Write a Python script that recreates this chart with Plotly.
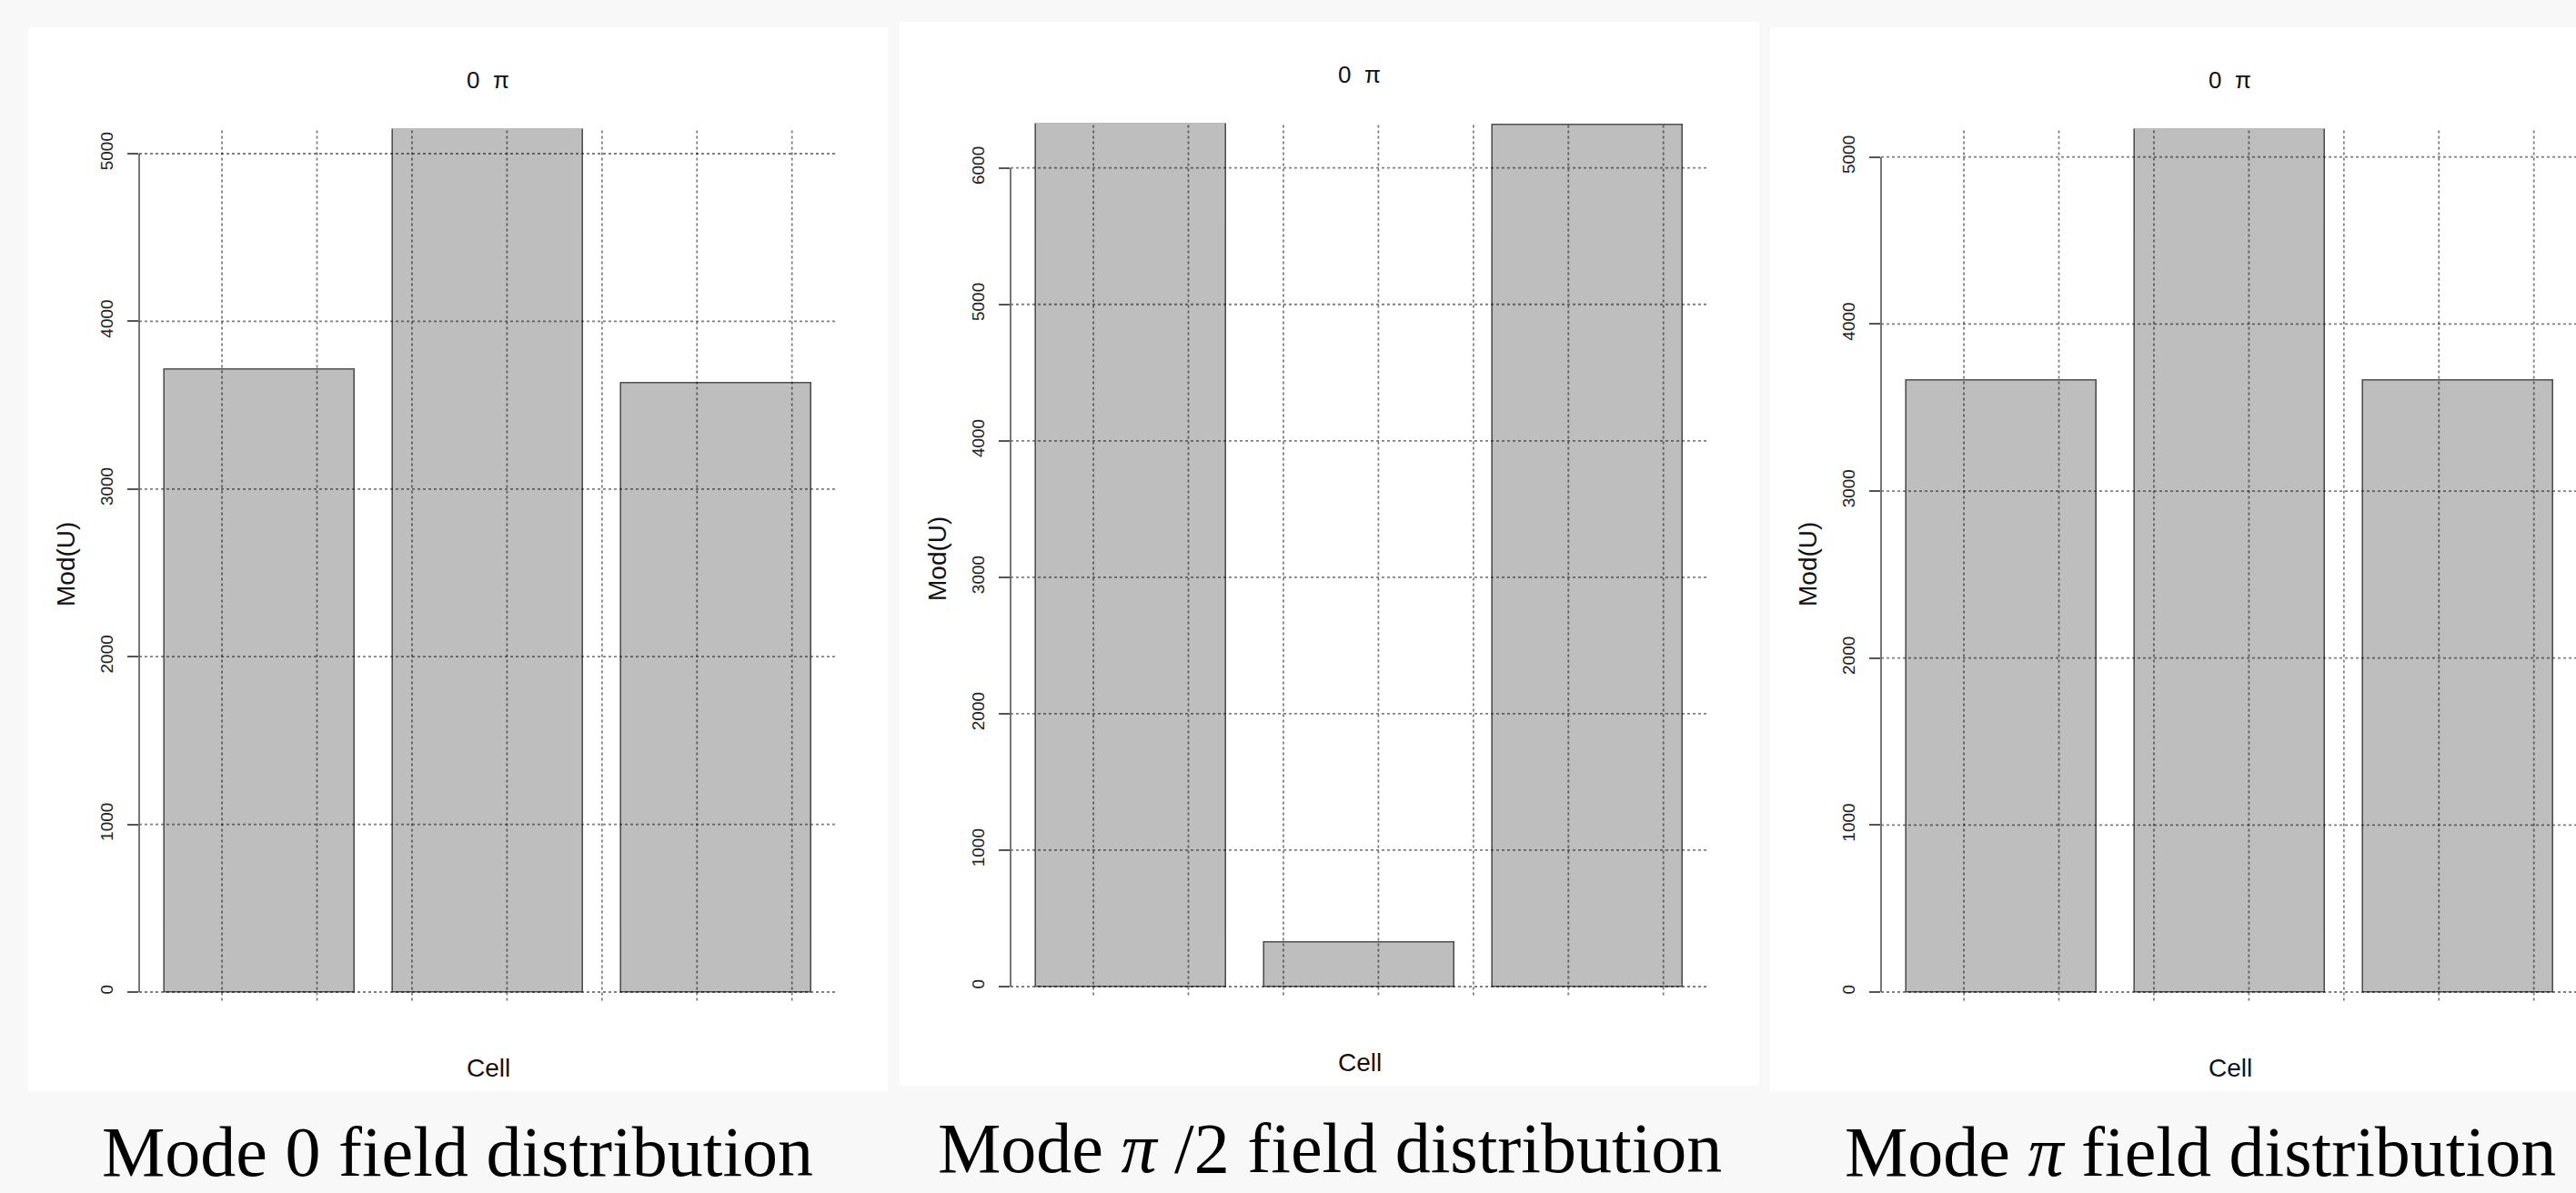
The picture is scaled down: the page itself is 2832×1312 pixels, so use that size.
import plotly.graph_objects as go

# ---------------- data ----------------
cells = ["1", "2", "3"]
mode_0 = [3713, 5149, 3629]
mode_half_pi = [6328, 320, 6312]
mode_pi = [3662, 5170, 3660]

panel_titles = ["0  π", "0  π", "0  π"]
captions = [
    "Mode 0 field distribution",
    "Mode <i>π</i> /2 field distribution",
    "Mode <i>π</i> field distribution",
]
y_ticks = [
    [0, 1000, 2000, 3000, 4000, 5000],
    [0, 1000, 2000, 3000, 4000, 5000, 6000],
    [0, 1000, 2000, 3000, 4000, 5000],
]
x_title = "Cell"
y_title = "Mod(U)"
series = [mode_0, mode_half_pi, mode_pi]

# ---------------- layout constants (pixels) ----------------
W, H = 2832, 1312
BG = "#f8f8f8"
panel_left = [31, 989, 1946]
panel_top = [30, 24, 30]
panel_w, panel_h = 945, 1170
plot_dx, plot_dy = 122, 111.5          # plot area offset inside panel
plot_w, plot_h = 767, 959
bar_width, bar_space = 1.0, 0.2
GRID = "rgba(0,0,0,0.5)"
caption_bottom = [H, H - 4, H]

SANS = "Liberation Sans, Arial, sans-serif"
SERIF = "Liberation Serif, Times New Roman, serif"


def fx(px):
    return px / W


def fy(py):
    return 1 - py / H


fig = go.Figure()
shapes = []
annotations = []

n = len(cells)
xs = [bar_space + i * (bar_width + bar_space) + bar_width / 2 for i in range(n)]
x_lo = bar_space
x_hi = n * (bar_width + bar_space)
pad = 0.04 * (x_hi - x_lo)
x_min, x_max = x_lo - pad, x_hi + pad
grid_x = [0.5 * k for k in range(1, int(x_max / 0.5) + 1)]
unit_px = plot_w / (x_max - x_min)

for i, vals in enumerate(series):
    k = "" if i == 0 else str(i + 1)
    L = panel_left[i] + plot_dx
    T = panel_top[i] + plot_dy
    R = min(L + plot_w, W)
    B = T + plot_h
    xr_max = x_min + (R - L) / unit_px

    # white panel background
    shapes.append(dict(type="rect", xref="paper", yref="paper",
                       x0=fx(panel_left[i]), x1=fx(panel_left[i] + panel_w),
                       y0=fy(panel_top[i] + panel_h), y1=fy(panel_top[i]),
                       fillcolor="white", line=dict(width=0), layer="below"))

    fig.add_trace(go.Bar(
        x=xs, y=vals, width=bar_width,
        marker=dict(color="#bebebe", line=dict(color="#505050", width=1.6)),
        xaxis="x" + k, yaxis="y" + k, showlegend=False, hoverinfo="y",
    ))

    ymax = max(vals)
    y_range = [-0.01 * ymax, ymax]

    fig.layout["xaxis" + k] = dict(
        domain=[fx(L), fx(R)], range=[x_min, xr_max], anchor="y" + k,
        showgrid=False, zeroline=False, showticklabels=False, ticks="",
        showline=False, fixedrange=True,
    )
    fig.layout["yaxis" + k] = dict(
        domain=[fy(B), fy(T)], range=y_range, anchor="x" + k,
        showgrid=False, zeroline=False, showline=False,
        tickmode="array", tickvals=y_ticks[i], ticktext=[str(t) for t in y_ticks[i]],
        ticks="outside", ticklen=12, tickwidth=1.6, tickcolor="#555555",
        tickangle=-90, ticklabelstandoff=8,
        tickfont=dict(family=SANS, size=19, color="#222222"),
        fixedrange=True,
    )

    # dotted grid drawn above the bars (as in R's grid())
    for gx in grid_x:
        if gx <= xr_max:
            shapes.append(dict(type="line", xref="x" + k, yref="y" + k + " domain",
                               x0=gx, x1=gx, y0=0, y1=1, layer="above",
                               line=dict(color=GRID, width=1.8, dash="dot")))
    for gy in y_ticks[i]:
        shapes.append(dict(type="line", xref="x" + k + " domain", yref="y" + k,
                           x0=0, x1=1, y0=gy, y1=gy, layer="above",
                           line=dict(color=GRID, width=1.8, dash="dot")))
    # y axis line from first to last tick
    shapes.append(dict(type="line", xref="x" + k + " domain", yref="y" + k,
                       x0=0, x1=0, y0=y_ticks[i][0], y1=y_ticks[i][-1], layer="above",
                       line=dict(color="#555555", width=1.6)))

    cx = L + plot_w / 2
    # panel title
    annotations.append(dict(text=panel_titles[i], xref="paper", yref="paper",
                            x=fx(cx), y=fy(panel_top[i] + 58), xanchor="center", yanchor="middle",
                            showarrow=False, font=dict(family=SANS, size=26, color="#111111")))
    # x title
    annotations.append(dict(text=x_title, xref="paper", yref="paper",
                            x=fx(cx), y=fy(B + 74), xanchor="center", yanchor="middle",
                            showarrow=False, font=dict(family=SANS, size=28, color="#111111")))
    # y title
    annotations.append(dict(text=y_title, xref="paper", yref="paper",
                            x=fx(L - 81), y=fy(T + plot_h / 2), xanchor="center", yanchor="middle",
                            textangle=-90, showarrow=False,
                            font=dict(family=SANS, size=28, color="#111111")))
    # caption, resting on the bottom edge of the picture
    annotations.append(dict(text=captions[i], xref="paper", yref="paper",
                            x=fx(panel_left[i] + panel_w / 2),
                            y=fy(caption_bottom[i]),
                            xanchor="center", yanchor="bottom", showarrow=False,
                            font=dict(family=SERIF, size=78, color="#000000")))

fig.update_layout(
    width=W, height=H, margin=dict(l=0, r=0, t=0, b=0),
    paper_bgcolor=BG, plot_bgcolor="rgba(0,0,0,0)",
    shapes=shapes, annotations=annotations, bargap=0,
)

fig.write_html(
    "out.html",
    config={"displayModeBar": False},
    post_script=(
        "document.body.style.margin='0';"
        "document.body.style.padding='0';"
        "document.body.style.overflow='hidden';"
        "document.body.style.background='" + BG + "';"
    ),
)
